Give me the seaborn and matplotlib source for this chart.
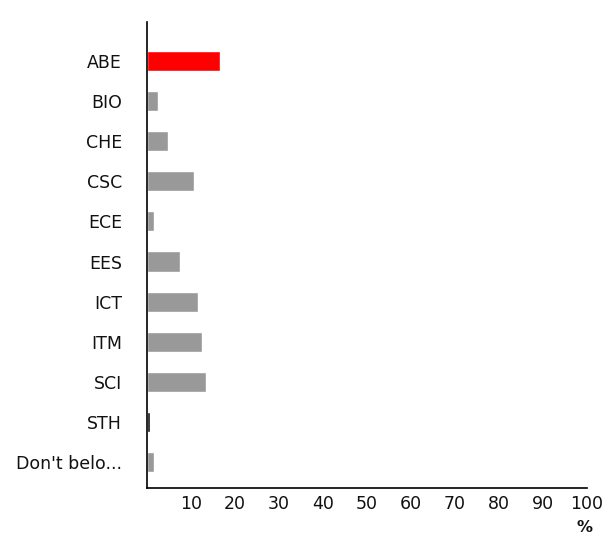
import matplotlib
matplotlib.use("Agg")
import matplotlib.pyplot as plt
import seaborn as sns
import pandas as pd

categories = ["ABE", "BIO", "CHE", "CSC", "ECE", "EES", "ICT", "ITM", "SCI", "STH", "Don't belo..."]
values = [16.6, 2.5, 4.8, 10.7, 1.6, 7.5, 11.6, 12.5, 13.4, 0.6, 1.6]
colors = ["#ff0000", "#999999", "#999999", "#999999", "#999999", "#999999",
          "#999999", "#999999", "#999999", "#111111", "#999999"]
xticks = [10, 20, 30, 40, 50, 60, 70, 80, 90, 100]

sns.set_style("white")
plt.rcParams['font.family'] = ['DejaVu Sans']

df = pd.DataFrame({"cat": categories, "val": values})
fig = plt.figure(figsize=(6.14, 5.38), dpi=100)
ax = fig.add_axes([147/614, 50/538, 440/614, 466/538])
sns.barplot(data=df, x="val", y="cat", hue="cat", palette=colors, legend=False,
            orient="h", width=0.5, ax=ax, saturation=1)

ax.set_xlim(0, 100)
ax.set_ylim(10.65, -0.975)
ax.set_xticks(xticks)
ax.set_xticklabels([str(t) for t in xticks], fontsize=12.5, color="#111111")
ax.tick_params(axis="x", direction="inout", length=8, width=1, color="black", pad=1)
ax.tick_params(axis="y", length=0, pad=18, labelsize=12.5, labelcolor="#111111")
ax.set_xlabel("")
ax.set_ylabel("")
for s in ["top", "right"]:
    ax.spines[s].set_visible(False)
for s in ["left", "bottom"]:
    ax.spines[s].set_color("black")
    ax.spines[s].set_linewidth(1.2)
ax.text(99.5, -0.068, "%", transform=ax.get_xaxis_transform(), ha="center", va="top",
        fontsize=11.5, fontweight="bold", color="#111111")
fig.savefig("out.png", dpi=100)
